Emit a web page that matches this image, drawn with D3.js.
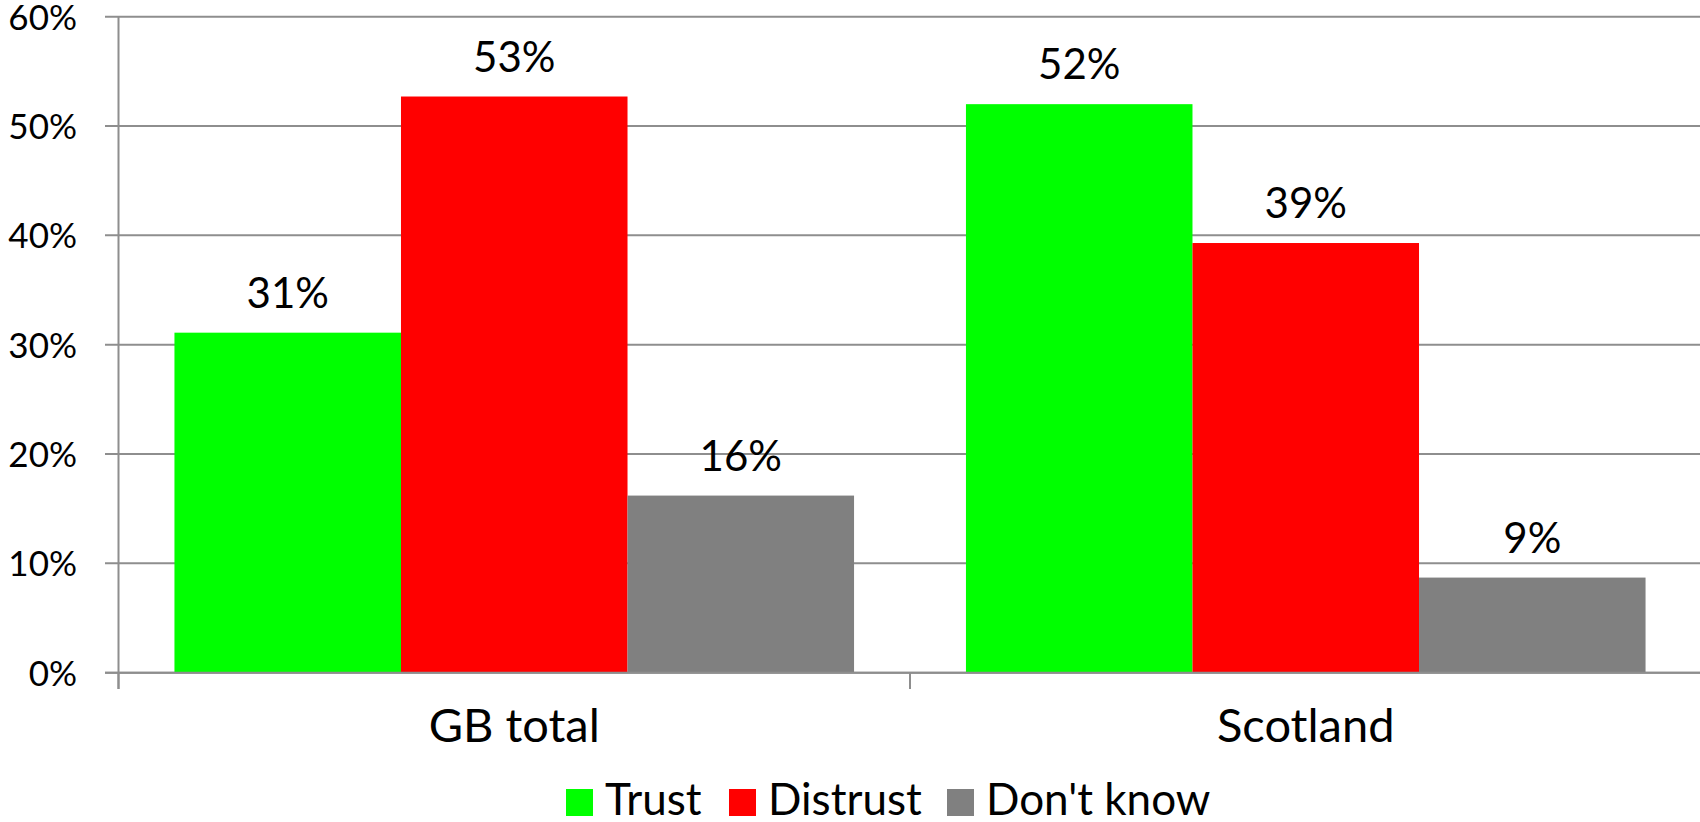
<!DOCTYPE html>
<html>
<head>
<meta charset="utf-8">
<script src="https://cdnjs.cloudflare.com/ajax/libs/d3/7.8.5/d3.min.js"></script>
<style>
  html, body { margin: 0; padding: 0; background: #fff; }
  svg { display: block; }
  text { font-family: Lato, "Open Sans", sans-serif; fill: #000; }
</style>
</head>
<body>
<svg id="chart" width="1700" height="822"></svg>
<script>
const categories = ["GB total", "Scotland"];
const series = ["Trust", "Distrust", "Don't know"];
const seriesColors = ["#00ff00", "#ff0000", "#808080"];
const trustValues = [0.311, 0.520];
const distrustValues = [0.527, 0.393];
const dontKnowValues = [0.162, 0.087];
const yTicks = [0, 0.1, 0.2, 0.3, 0.4, 0.5, 0.6];

(function () {
const valuesBySeries = [trustValues, distrustValues, dontKnowValues];

const svg = d3.select("#chart");
const plotLeft = 118.5, plotRight = 1701.5, plotTop = 16.7, plotBottom = 672.7;
const gridColor = "#8e8e8e";

const x = d3.scaleBand().domain(categories).range([plotLeft, plotRight]).paddingInner(0).paddingOuter(0);
const xs = d3.scaleBand().domain(series).range([0, x.bandwidth()]).paddingInner(0).paddingOuter(0.247);
const y = d3.scaleLinear().domain([0, 0.6]).range([plotBottom, plotTop]);
const pct = d3.format(".0%");

// gridlines
svg.append("g").selectAll("line").data(yTicks).join("line")
  .attr("x1", 105).attr("x2", 1700)
  .attr("y1", d => y(d)).attr("y2", d => y(d))
  .attr("stroke", gridColor).attr("stroke-width", 2);

// y tick labels
svg.append("g").selectAll("text").data(yTicks).join("text")
  .attr("x", 77).attr("y", d => y(d) + 13)
  .attr("text-anchor", "end")
  .attr("font-size", 35)
  .text(d => pct(d));

// vertical axis line
svg.append("line").attr("x1", plotLeft).attr("x2", plotLeft).attr("y1", plotTop).attr("y2", 689)
  .attr("stroke", gridColor).attr("stroke-width", 2);

// category tick marks
const catEdges = categories.map(c => x(c)).concat([x(categories[categories.length - 1]) + x.bandwidth()]);
svg.append("g").selectAll("line").data(catEdges).join("line")
  .attr("x1", d => d).attr("x2", d => d)
  .attr("y1", plotBottom).attr("y2", 689)
  .attr("stroke", gridColor).attr("stroke-width", 2);

// bars data
const barData = [];
categories.forEach((c, ci) => {
  series.forEach((s, si) => {
    barData.push({ cat: c, ser: s, si, value: valuesBySeries[si][ci] });
  });
});

svg.append("g").selectAll("rect").data(barData).join("rect")
  .attr("x", d => x(d.cat) + xs(d.ser))
  .attr("width", xs.bandwidth())
  .attr("y", d => y(d.value))
  .attr("height", d => y(0) - y(d.value))
  .attr("fill", d => seriesColors[d.si]);

// baseline redraw over bars
svg.append("line").attr("x1", 105).attr("x2", 1700).attr("y1", y(0)).attr("y2", y(0))
  .attr("stroke", gridColor).attr("stroke-width", 2);

// data labels
svg.append("g").selectAll("text").data(barData).join("text")
  .attr("x", d => x(d.cat) + xs(d.ser) + xs.bandwidth() / 2)
  .attr("y", d => y(d.value) - 25)
  .attr("text-anchor", "middle")
  .attr("font-size", 42)
  .text(d => pct(d.value));

// category labels
svg.append("g").selectAll("text").data(categories).join("text")
  .attr("x", d => x(d) + x.bandwidth() / 2)
  .attr("y", 742)
  .attr("text-anchor", "middle")
  .attr("font-size", 47)
  .text(d => d);

// legend
const legendX = [566, 729, 947];
const lg = svg.append("g").selectAll("g").data(series).join("g")
  .attr("transform", (d, i) => `translate(${legendX[i]},0)`);
lg.append("rect").attr("x", 0).attr("y", 789).attr("width", 27).attr("height", 27)
  .attr("fill", (d, i) => seriesColors[i]);
lg.append("text").attr("x", 39).attr("y", 815).attr("font-size", 44).text(d => d);
})();
</script>
</body>
</html>
